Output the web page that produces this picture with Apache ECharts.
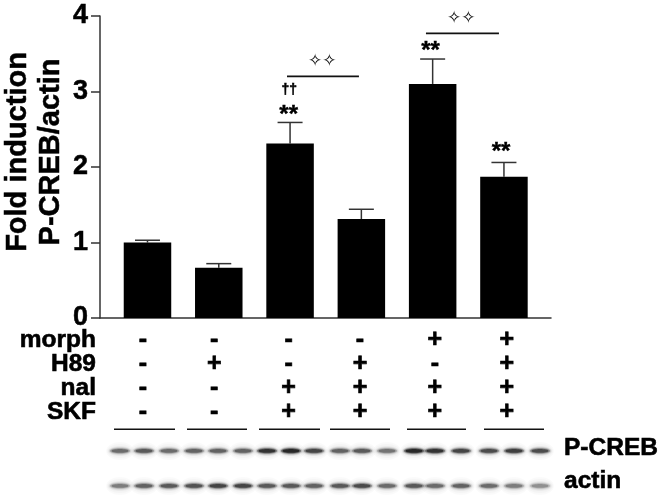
<!DOCTYPE html>
<html><head><meta charset="utf-8">
<style>html,body{margin:0;padding:0;background:#fff}#c{width:664px;height:503px}</style>
<script src="https://cdn.jsdelivr.net/npm/echarts@6/dist/echarts.min.js"></script>
</head><body><div id="c"></div>
<script>
const barValues = [1.0, 0.665, 2.31, 1.31, 3.10, 1.87];
const errorTops = [1.03, 0.72, 2.59, 1.44, 3.43, 2.06];
const yTicks = [0, 1, 2, 3, 4];
const rowNames = ['morph', 'H89', 'nal', 'SKF'];
const morphSigns = ['-', '-', '-', '-', '+', '+'];
const h89Signs = ['-', '+', '-', '+', '-', '+'];
const nalSigns = ['-', '-', '+', '+', '+', '+'];
const skfSigns = ['-', '-', '+', '+', '+', '+'];
const signColumns = [-0.063, 0.937, 1.98, 2.98, 4.03, 5.04];
const brackets = [[1.957, 2.966, 3.2], [3.906, 4.93, 3.77]];
const stars = [[1.98, 2.69, '**'], [3.97, 3.53, '**'], [4.96, 2.2, '**']];
const daggers = [[1.99, 3.02, '††']];
const diamonds = [[2.45, 3.39, '✧✧'], [4.4, 3.96, '✧✧']];
const lanePositions = [120,144,169,194,218,243,267,291,314,340,362,387,414,435,461,489,514,540];
const pCreb = [.5,.6,.5,.55,.55,.55,.9,1,.75,.55,.6,.45,1,.9,.75,.7,.8,.7];
const actin = [.4,.55,.6,.65,.75,.75,.6,.6,.55,.6,.7,.5,.6,.5,.55,.5,.4,.3];
const groupLines = [[114,175],[187,247],[259,320],[330,390],[407,466],[484,544]];
const blotLabels = [['P-CREB', 0.33], ['actin', 0.81]];
const rowLevel = { pCreb: 0.37, actin: 0.87, group: 0.06 };

const FONT = '"Liberation Sans", Arial, sans-serif';
const AX = '#333';
const xRange = { min: -0.666, max: 5.66 };
const signRows = [morphSigns, h89Signs, nalSigns, skfSigns];
const signData = [];
signRows.forEach((r, ri) => r.forEach((s, ci) => signData.push([signColumns[ci], rowNames[ri], s])));

function textSeries(data, fontSize, family, weight, color, stroke) {
  return {
    type: 'custom', xAxisIndex: 0, yAxisIndex: 0, z: 5, clip: false, data,
    renderItem(p, api) {
      const c = api.coord([api.value(0), api.value(1)]);
      return { type: 'text', x: c[0], y: c[1], style: {
        text: data[p.dataIndex][2], fontSize, fontFamily: family, fontWeight: weight,
        fill: color, stroke: stroke ? color : null, lineWidth: stroke, align: 'center', verticalAlign: 'middle' } };
    }
  };
}

const chart = echarts.init(document.getElementById('c'), null, { renderer: 'canvas' });
chart.setOption({
  animation: false,
  backgroundColor: '#fff',
  grid: [
    { left: 100, top: 16, width: 451, height: 302 },
    { left: 100, top: 328, width: 451, height: 96 },
    { left: 0, top: 425, width: 664, height: 70 }
  ],
  xAxis: [
    { gridIndex: 0, type: 'value', ...xRange, splitLine: { show: false },
      axisLine: { show: true, lineStyle: { color: AX, width: 1.5 } }, axisTick: { show: false }, axisLabel: { show: false } },
    { gridIndex: 1, type: 'value', ...xRange, show: false },
    { gridIndex: 2, type: 'value', min: 0, max: 664, show: false }
  ],
  yAxis: [
    { gridIndex: 0, type: 'value', min: 0, max: 4, interval: 1, splitLine: { show: false },
      axisLine: { show: true, onZero: false, lineStyle: { color: AX, width: 1.5 } },
      axisTick: { show: true, length: 9, lineStyle: { color: AX, width: 1.5 } },
      axisLabel: { margin: 12, fontFamily: FONT, fontWeight: 'bold', fontSize: 27, color: '#000',
        textBorderColor: '#000', textBorderWidth: 0.5,
        formatter: v => yTicks.includes(v) ? String(v) : '' } },
    { gridIndex: 1, type: 'category', inverse: true, data: rowNames,
      axisLine: { show: false }, axisTick: { show: false }, splitLine: { show: false },
      axisLabel: { interval: 0, margin: 4, fontFamily: FONT, fontWeight: 'bold', fontSize: 24.5, color: '#000',
        textBorderColor: '#000', textBorderWidth: 0.6 } },
    { gridIndex: 2, type: 'value', inverse: true, min: 0, max: 1, show: false }
  ],
  graphic: [{
    type: 'text', x: 34, y: 152, rotation: Math.PI / 2,
    style: { text: 'Fold induction\nP-CREB/actin', fontFamily: FONT, fontWeight: 'bold', fontSize: 29,
      lineHeight: 33, fill: '#000', stroke: '#000', lineWidth: 0.5, align: 'center', verticalAlign: 'middle' }
  }],
  series: [
    { type: 'bar', xAxisIndex: 0, yAxisIndex: 0, barWidth: 47.5, z: 3,
      itemStyle: { color: '#000' }, data: barValues.map((v, i) => [i, v]) },
    { type: 'custom', xAxisIndex: 0, yAxisIndex: 0, z: 2,
      data: barValues.map((v, i) => [i, v, errorTops[i]]),
      renderItem(p, api) {
        const b = api.coord([api.value(0), api.value(1)]), t = api.coord([api.value(0), api.value(2)]);
        const s = { stroke: AX, lineWidth: 1.5 };
        return { type: 'group', children: [
          { type: 'line', shape: { x1: b[0], y1: b[1], x2: t[0], y2: t[1] }, style: s },
          { type: 'line', shape: { x1: t[0] - 12.5, y1: t[1], x2: t[0] + 12.5, y2: t[1] }, style: s }
        ] };
      } },
    { type: 'custom', xAxisIndex: 0, yAxisIndex: 0, z: 4, clip: false, data: brackets,
      renderItem(p, api) {
        const a = api.coord([api.value(0), api.value(2)]), b = api.coord([api.value(1), api.value(2)]);
        return { type: 'line', shape: { x1: a[0], y1: a[1], x2: b[0], y2: b[1] }, style: { stroke: '#111', lineWidth: 1.6 } };
      } },
    textSeries(stars, 24, FONT, 'bold', '#000', 0.4),
    textSeries(daggers, 14, FONT, 'bold', '#000', 0.5),
    textSeries(diamonds, 17, '"DejaVu Sans"', 'normal', '#000', 0),
    { type: 'custom', xAxisIndex: 1, yAxisIndex: 1, data: signData, clip: false,
      renderItem(p, api) {
        const c = api.coord([api.value(0), signData[p.dataIndex][1]]);
        return { type: 'text', x: c[0], y: c[1], style: { text: signData[p.dataIndex][2], fontFamily: FONT,
          fontWeight: 'bold', fontSize: 25, fill: '#000', stroke: '#000', lineWidth: 0.7, align: 'center', verticalAlign: 'middle' } };
      } },
    { type: 'custom', xAxisIndex: 2, yAxisIndex: 2, clip: false,
      data: lanePositions.map((x, i) => [x, rowLevel.pCreb, pCreb[i]]).concat(lanePositions.map((x, i) => [x, rowLevel.actin, actin[i]])),
      renderItem(p, api) {
        const c = api.coord([api.value(0), api.value(1)]), k = api.value(2);
        const layer = (rx, ry, a) => ({ type: 'ellipse', shape: { cx: c[0], cy: c[1], rx, ry }, style: { fill: '#000', opacity: a } });
        return { type: 'group', children: [
          layer(14, 9, 0.02), layer(13, 7, 0.025), layer(12, 5, 0.02 + 0.05 * k),
          layer(11, 3.8, 0.02 + 0.14 * k), layer(10, 2.8, 0.03 + 0.38 * k), layer(8.5, 1.8, 0.05 + 0.6 * k)
        ] };
      } },
    { type: 'custom', xAxisIndex: 2, yAxisIndex: 2, clip: false, data: groupLines,
      renderItem(p, api) {
        const a = api.coord([api.value(0), rowLevel.group]), b = api.coord([api.value(1), rowLevel.group]);
        return { type: 'line', shape: { x1: a[0], y1: a[1], x2: b[0], y2: b[1] }, style: { stroke: '#111', lineWidth: 1.5 } };
      } },
    { type: 'custom', xAxisIndex: 2, yAxisIndex: 2, clip: false, data: blotLabels,
      renderItem(p, api) {
        const c = api.coord([564, api.value(1)]);
        return { type: 'text', x: c[0], y: c[1], style: { text: blotLabels[p.dataIndex][0], fontFamily: FONT,
          fontWeight: 'bold', fontSize: 24.5, fill: '#000', stroke: '#000', lineWidth: 0.6, align: 'left', verticalAlign: 'middle' } };
      } }
  ]
});
</script></body></html>
